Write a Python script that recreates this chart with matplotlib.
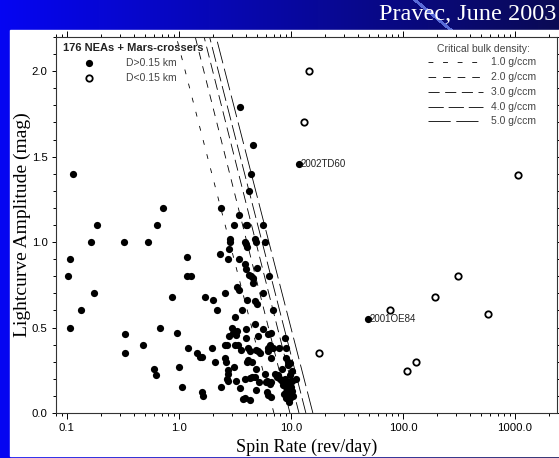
import matplotlib.pyplot as plt
import numpy as np
from matplotlib.patches import Rectangle

plt.rcParams['lines.scale_dashes'] = False

# Spin rate (rev/day) and amplitude (mag), objects with D > 0.15 km
big_rate = [0.114, 0.107, 0.103, 0.107, 0.135, 0.164, 0.175, 0.187, 0.323, 0.332,
            0.33, 0.477, 0.525, 0.594, 0.627, 0.637, 0.673, 0.72, 0.87, 0.965,
            1.0, 1.07, 1.19, 1.19, 1.27, 1.21, 1.46, 1.53, 1.60, 1.61,
            1.63, 1.70, 1.98, 2.02, 2.10, 2.17, 2.34, 2.36, 2.37, 2.56,
            2.60, 2.70, 2.58, 2.63, 2.72, 2.72, 2.68, 2.74, 2.78, 2.76,
            2.85, 2.87, 2.79, 2.99, 3.05, 3.12, 3.16, 3.12, 3.23, 3.2,
            3.35, 3.30, 3.25, 3.46, 3.43, 3.5, 3.5, 3.30, 3.45, 3.55,
            3.63, 3.74, 3.88, 3.94, 4.07, 3.9, 4.0, 4.07, 3.96, 3.96,
            4.02, 4.02, 3.9, 4.3, 3.88, 4.0, 4.25, 4.39, 4.61, 4.2,
            4.4, 4.6, 4.6, 4.28, 4.1, 4.3, 4.5, 4.1, 4.5, 4.74,
            4.87, 4.94, 4.8, 4.94, 4.77, 4.87, 4.87, 4.9, 5.1, 5.35,
            5.1, 5.2, 4.8, 5.58, 5.66, 5.66, 5.85, 5.85, 6.06, 6.0,
            6.06, 6.2, 6.27, 6.3, 6.27, 6.4, 6.5, 6.5, 6.6, 6.7,
            6.7, 6.7, 6.85, 6.9, 7.2, 7.5, 7.7, 7.9, 8.0, 8.27,
            8.3, 8.5, 8.83, 9.0, 9.1, 9.4, 9.8, 9.5, 8.8, 9.0,
            9.2, 9.5, 9.8, 10.0, 10.3, 10.0, 9.6, 9.3, 9.7, 10.2,
            9.0, 9.6, 10.4, 11.2, 8.6, 8.9, 9.9, 10.2, 11.8, 48.7]
big_amp = [1.40, 0.90, 0.80, 0.50, 0.60, 1.00, 0.70, 1.10, 1.00, 0.46,
           0.35, 0.40, 1.00, 0.26, 0.22, 1.10, 0.50, 1.20, 0.68, 0.47,
           0.27, 0.15, 0.91, 0.80, 0.80, 0.38, 0.35, 0.33, 0.33, 0.12,
           0.10, 0.68, 0.38, 0.66, 0.30, 0.60, 0.93, 1.20, 0.15, 0.70,
           0.40, 0.40, 0.32, 0.30, 0.25, 0.23, 0.20, 0.185, 0.96, 0.90,
           1.02, 1.00, 0.45, 0.50, 0.47, 1.10, 0.56, 0.27, 0.19, 0.40,
           0.395, 0.48, 0.455, 0.90, 1.16, 1.79, 0.145, 0.74, 0.72, 0.37,
           0.60, 0.08, 0.87, 1.10, 1.10, 1.00, 0.99, 0.97, 0.44, 0.49,
           0.66, 0.30, 0.20, 0.075, 0.085, 0.84, 1.30, 1.40, 1.57, 0.81,
           0.80, 0.79, 0.76, 0.36, 0.38, 0.205, 0.21, 0.31, 0.30, 1.02,
           1.00, 0.85, 0.655, 0.635, 0.52, 0.26, 0.135, 0.37, 0.36, 0.35,
           0.45, 0.18, 0.21, 0.70, 1.10, 0.49, 1.00, 0.23, 0.19, 0.18,
           0.125, 0.105, 0.46, 0.38, 0.36, 0.80, 0.17, 0.40, 0.32, 0.47,
           0.18, 0.095, 0.60, 0.38, 0.23, 0.21, 0.22, 0.38, 0.20, 0.26,
           0.185, 0.165, 0.44, 0.32, 0.38, 0.30, 0.29, 0.28, 0.16, 0.12,
           0.10, 0.08, 0.09, 0.11, 0.13, 0.15, 0.18, 0.14, 0.17, 0.19,
           0.085, 0.065, 0.10, 0.20, 0.11, 0.20, 0.22, 0.245, 1.455, 0.55]

# objects with D < 0.15 km
small_rate = [14.6, 13.2, 1057, 17.8, 76, 193, 308, 570, 108.6, 131.5]
small_amp = [2.00, 1.70, 1.39, 0.35, 0.60, 0.68, 0.80, 0.58, 0.243, 0.30]

# labelled objects
names = ['2002TD60', '2001OE84']
name_rate = [11.8, 48.7]
name_amp = [1.455, 0.55]

# critical spin limits: spin rate at amplitude 0 and at 2.2 mag
densities = ['1.0', '2.0', '3.0', '4.0', '5.0']
crit_rate_a0 = [7.05, 9.8, 11.8, 13.6, 15.7]
crit_rate_a22 = [0.95, 1.40, 1.68, 1.88, 2.15]
crit_amp = [0.0, 2.2]
dashes = [(0, (3.5, 7)), (0, (5.5, 5)), (0, (8, 4)), (0, (11, 3.5)), (0, (16, 4))]

W, H = 559, 458
fig = plt.figure(figsize=(W / 100, H / 100), dpi=100)

# slide background
bg = fig.add_axes([0, 0, 1, 1])
xx, yy = np.meshgrid(np.arange(W), np.arange(H))
t = xx / W
img = np.zeros((H, W, 3))
img[..., 0] = 0.02 + 0.02 * t
img[..., 1] = 0.02 + 0.02 * t
img[..., 2] = 0.95 - 0.62 * t
streak = np.abs(xx - (415 + 1.2 * yy)) < 2.5
img[streak] = [0.35, 0.42, 0.85]
bg.imshow(img, extent=[0, W, H, 0], aspect='auto')
bg.add_patch(Rectangle((10, 30), W - 10, H - 32, color='white'))
bg.set_xlim(0, W)
bg.set_ylim(H, 0)
bg.axis('off')

fig.text(556 / W, 1 - 15 / H, 'Pravec, June 2003', color='white', ha='right', va='center',
         fontsize=17.5, family='Liberation Serif')

ax = fig.add_axes([56 / W, 1 - 413 / H, (557 - 56) / W, (413 - 37) / H])
ax.set_facecolor('white')
ax.set_xscale('log')
ax.set_xlim(0.08, 2372)
ax.set_ylim(0, 2.2)

for rlo, rhi, ds in zip(crit_rate_a0, crit_rate_a22, dashes):
    ax.plot([rlo, rhi], crit_amp, color='black', lw=0.6, linestyle=ds)

ax.plot(big_rate, big_amp, 'o', color='black', ms=5.2, mew=0)
ax.plot(small_rate, small_amp, 'o', mfc='white', mec='black', ms=4.6, mew=1.3)

for nm, r, a in zip(names, name_rate, name_amp):
    ax.annotate(nm, (r, a), xytext=(1.5, 0), textcoords='offset points', va='center',
                fontsize=7, color='#222222', family='Liberation Sans')

ax.set_xticks([0.1, 1, 10, 100, 1000])
ax.set_xticklabels(['0.1', '1.0', '10.0', '100.0', '1000.0'])
ax.set_yticks([0, 0.5, 1.0, 1.5, 2.0])
ax.set_yticklabels(['0.0', '0.5', '1.0', '1.5', '2.0'])
ax.set_yticks(np.arange(0, 2.21, 0.1), minor=True)
ax.tick_params(which='both', direction='out', top=True, right=True, width=0.7,
               labelsize=8.2, colors='black')
ax.tick_params(which='major', length=4, pad=3)
ax.tick_params(which='minor', length=2.5)
ax.tick_params(axis='y', which='major', right=True, length=3)
for lab in ax.get_xticklabels() + ax.get_yticklabels():
    lab.set_family('Liberation Sans')
for s in ax.spines.values():
    s.set_linewidth(0.8)
    s.set_color('#333333')

ax.set_xlabel('Spin Rate (rev/day)', family='Liberation Serif', fontsize=13, labelpad=4)
ax.set_ylabel('Lightcurve Amplitude (mag)', family='Liberation Serif', fontsize=14)
ax.yaxis.set_label_coords(-0.05, 0.5)

# legend, left
tr = ax.transAxes
ax.text(0.0134, 0.9707, '176 NEAs + Mars-crossers', transform=tr, va='center', ha='left',
        fontsize=8, fontweight='bold', family='Liberation Sans', color='#222222')
ax.plot([0.0665], [0.930], 'o', color='black', ms=5.2, mew=0, transform=tr)
ax.plot([0.0665], [0.8918], 'o', mfc='white', mec='black', ms=4.6, mew=1.3, transform=tr)
ax.text(0.1397, 0.930, 'D>0.15 km', transform=tr, va='center', fontsize=7.5,
        family='Liberation Sans', color='#444444')
ax.text(0.1397, 0.8918, 'D<0.15 km', transform=tr, va='center', fontsize=7.5,
        family='Liberation Sans', color='#444444')

# legend, right
ax.text(0.854, 0.968, 'Critical bulk density:', transform=tr, va='center', ha='center',
        fontsize=7.5, family='Liberation Sans', color='#444444')
rows = [0.9327, 0.8928, 0.8537, 0.8146, 0.7774]
for d, ds, fy in zip(densities, dashes, rows):
    ax.plot([0.7425, 0.8523], [fy, fy], color='black', lw=0.6, linestyle=ds, transform=tr)
    ax.text(0.868, fy, d + ' g/ccm', transform=tr, va='center', fontsize=7.5,
            family='Liberation Sans', color='#444444')

plt.savefig('out.png', dpi=100)
